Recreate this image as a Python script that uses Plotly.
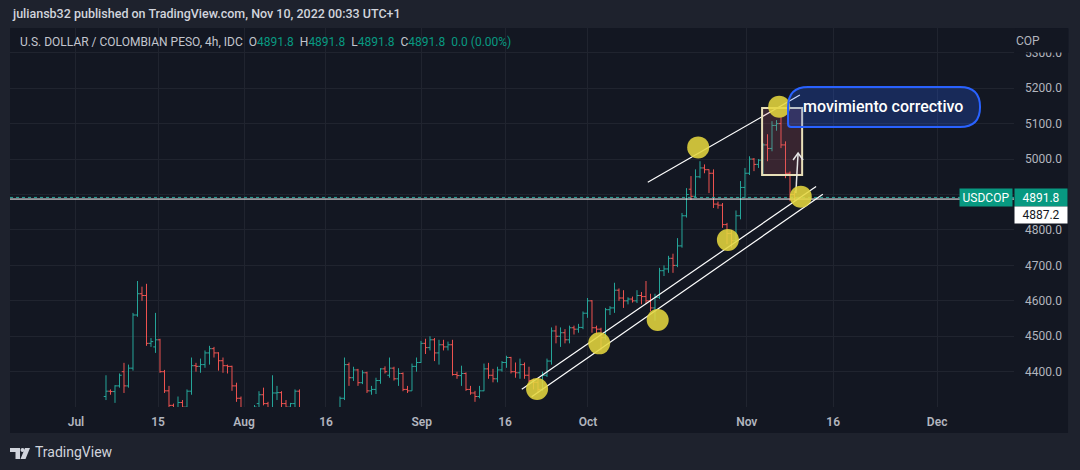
import plotly.graph_objects as go

# ---------------- data (USDCOP 4h) ----------------
open_ = [4330,4345,4344,4360,4400,4360,4410,4560,4620,4615,4480,4470,4490,4400,4346,4305,4285,4313,4300,4345,
         4417,4415,4420,4453,4465,4453,4431,4417,4415,4360,4325,4280,4260,4280,4310,4335,4310,4290,4340,4341,
         4310,4300,4310,4345,4295,4260,4240,4255,4270,4265,4275,4290,4295,4325,4420,4383,4405,4369,4397,4346,
         4350,4375,4408,4390,4410,4380,4395,4350,4346,4415,4426,4480,4468,4490,4453,4476,4470,4476,4392,4389,
         4395,4350,4340,4330,4346,4408,4390,4380,4405,4426,4440,4400,4397,4420,4390,4375,4370,4350,4390,4430,
         4515,4500,4510,4490,4524,4520,4525,4565,4600,4524,4520,4496,4575,4580,4630,4608,4600,4605,4600,4615,
         4612,4600,4580,4610,4685,4690,4720,4700,4755,4840,4915,4895,4950,4975,4970,4960,4873,4870,4815,4790,
         4770,4840,4920,4960,5000,4985,4997,5040,5030,5095,5100,5040,4960,4900,4891.8]
high = [4390,4350,4362,4395,4425,4420,4566,4656,4640,4648,4495,4566,4493,4405,4360,4310,4330,4320,4350,4440,
        4425,4437,4460,4473,4470,4455,4440,4420,4417,4369,4330,4290,4285,4306,4345,4355,4315,4390,4360,4345,
        4320,4312,4350,4350,4298,4280,4270,4285,4290,4285,4295,4298,4330,4440,4426,4414,4408,4404,4400,4360,
        4383,4410,4415,4440,4414,4410,4398,4360,4423,4440,4487,4493,4500,4495,4490,4490,4485,4490,4400,4417,
        4398,4360,4346,4360,4423,4425,4408,4414,4430,4445,4442,4426,4437,4426,4414,4380,4383,4400,4437,4525,
        4530,4525,4520,4530,4530,4535,4570,4608,4602,4530,4524,4580,4585,4651,4635,4630,4610,4612,4630,4625,
        4656,4620,4620,4693,4700,4727,4733,4777,4848,4918,4952,4971,4994,4985,4971,4971,4880,4876,4820,4800,
        4855,4938,4975,5008,5003,5000,5045,5070,5107,5110,5120,5050,4965,4910,4891.8]
low = [4320,4335,4312,4355,4340,4355,4403,4555,4600,4473,4470,4453,4397,4340,4300,4270,4280,4290,4295,4335,
       4400,4397,4411,4420,4440,4403,4397,4395,4346,4315,4270,4250,4245,4270,4300,4305,4280,4285,4320,4300,
       4290,4295,4300,4290,4250,4230,4225,4240,4255,4250,4260,4270,4290,4320,4360,4374,4360,4365,4340,4335,
       4337,4366,4395,4383,4375,4360,4345,4340,4346,4400,4425,4450,4460,4430,4420,4460,4460,4389,4380,4360,
       4346,4335,4315,4325,4345,4380,4370,4370,4400,4411,4395,4383,4380,4380,4370,4350,4340,4345,4385,4420,
       4480,4470,4480,4480,4505,4510,4520,4552,4510,4505,4460,4490,4560,4566,4600,4580,4590,4595,4594,4590,
       4592,4570,4544,4605,4670,4679,4679,4695,4750,4835,4885,4890,4946,4960,4904,4862,4860,4806,4760,4750,
       4765,4830,4890,4955,4966,4975,4952,4994,5022,5080,5031,4946,4881,4881,4891.8]
close = [4345,4344,4360,4390,4360,4410,4560,4620,4615,4480,4485,4490,4400,4346,4305,4285,4313,4300,4345,4417,
         4415,4420,4453,4465,4453,4431,4417,4415,4360,4325,4280,4260,4280,4300,4335,4310,4290,4340,4341,4310,
         4300,4310,4345,4295,4260,4240,4255,4270,4265,4275,4290,4295,4325,4420,4383,4405,4369,4397,4346,4350,
         4375,4408,4400,4410,4380,4395,4350,4346,4415,4426,4480,4468,4490,4453,4476,4470,4476,4392,4389,4395,
         4350,4340,4330,4346,4408,4390,4380,4405,4426,4440,4400,4397,4420,4390,4375,4370,4350,4390,4430,4515,
         4500,4510,4490,4524,4520,4525,4565,4600,4524,4520,4496,4575,4580,4630,4608,4600,4605,4600,4615,4612,
         4600,4580,4610,4685,4690,4720,4700,4755,4840,4900,4895,4950,4975,4970,4960,4873,4870,4815,4790,4770,
         4840,4920,4960,5000,4985,4997,5040,5030,5095,5100,5040,4960,4900,4891.8,4891.8]
bar_index = list(range(len(close)))

x_tick_vals = [-6.67, 11.56, 30.67, 48.89, 70.15, 88.67, 107.1, 142.4, 161.6, 184.7]
x_tick_text = ["Jul", "15", "Aug", "16", "Sep", "16", "Oct", "Nov", "16", "Dec"]
# 4900.0 sits under the last-price label, so only its grid line shows
y_tick_vals = [4400, 4500, 4600, 4700, 4800, 5000, 5100, 5200, 5300]
y_hidden_grid = [4900]

last_price = 4891.8
hline_price = 4887.2

# drawings (bar index, price)
circle_x = [95.8, 109.6, 122.6, 131.6, 138.2, 149.6, 154.4]
circle_y = [4351, 4480, 4546, 5033, 4772, 5148, 4894]
upper_line = [(120.4, 4934.5), (154.2, 5180.9)]
lower_line_1 = [(92.4, 4350.3), (157.8, 4922.6)]
lower_line_2 = [(94.6, 4329.5), (159.3, 4900.6)]
box_x = [145.8, 154.7]
box_y = [4955, 5144]
arrow_from = (153.3, 4904)
arrow_to = (153.8, 5017)
callout_anchor = (172.9, 5147)
callout_text = "movimiento correctivo"

# ---------------- figure ----------------
PANE = "#131722"
OUTER = "#1e222d"
GRID = "#20242f"
AXT = "#b2b5be"
UP = "#26a69a"
DOWN = "#ef5350"
FONT = "Roboto"

fig = go.Figure()
fig.add_trace(go.Ohlc(
    x=bar_index, open=open_, high=high, low=low, close=close,
    increasing=dict(line=dict(color=UP, width=1)),
    decreasing=dict(line=dict(color=DOWN, width=1)),
    tickwidth=0.5, hoverinfo="skip", showlegend=False,
))

shapes = []
# chart pane background (plot + axes area)
shapes.append(dict(type="rect", xref="paper", yref="paper", x0=0, x1=1.0538, y0=-0.0686, y1=1.0,
                   fillcolor=PANE, line=dict(width=0), layer="below"))
for gy in y_hidden_grid:
    shapes.append(dict(type="line", xref="paper", yref="y", x0=0, x1=1, y0=gy, y1=gy,
                       line=dict(color=GRID, width=1), layer="below"))
# horizontal line drawing
shapes.append(dict(type="line", xref="paper", yref="y", x0=0, x1=1, y0=hline_price, y1=hline_price,
                   line=dict(color="#ffffff", width=1)))
# last price dotted line
shapes.append(dict(type="line", xref="paper", yref="y", x0=0, x1=1, y0=last_price, y1=last_price,
                   line=dict(color=UP, width=1, dash="dot")))
# channel lines
for ln in (upper_line, lower_line_1, lower_line_2):
    shapes.append(dict(type="line", xref="x", yref="y", x0=ln[0][0], y0=ln[0][1], x1=ln[1][0], y1=ln[1][1],
                       line=dict(color="#ffffff", width=1.2), layer="above"))
# rectangle
shapes.append(dict(type="rect", xref="x", yref="y", x0=box_x[0], x1=box_x[1], y0=box_y[0], y1=box_y[1],
                   fillcolor="rgba(205,95,105,0.2)", line=dict(color="#e8dfb8", width=2), layer="above"))
# arrow shaft + head
shapes.append(dict(type="line", xref="x", yref="y", x0=arrow_from[0], y0=arrow_from[1],
                   x1=arrow_to[0], y1=arrow_to[1], line=dict(color="#e6e6e6", width=1.5), layer="above"))
shapes.append(dict(type="path", xref="x", yref="y", xsizemode="pixel", ysizemode="pixel",
                   xanchor=arrow_to[0], yanchor=arrow_to[1], path="M -5,-7 L 0,0 L 5,-7",
                   line=dict(color="#e6e6e6", width=1.5), layer="above"))
# yellow circles
for cx, cy in zip(circle_x, circle_y):
    shapes.append(dict(type="circle", xref="x", yref="y", xsizemode="pixel", ysizemode="pixel",
                       xanchor=cx, yanchor=cy, x0=-11, x1=11, y0=-11, y1=11,
                       fillcolor="rgba(228,214,62,0.88)", line=dict(width=0), layer="above"))
# callout balloon
shapes.append(dict(type="path", xref="x", yref="y", xsizemode="pixel", ysizemode="pixel",
                   xanchor=callout_anchor[0], yanchor=callout_anchor[1],
                   path="M -96,-17 Q -96,-20 -93,-20 L 76,-20 Q 96,-20 96,0 Q 96,20 76,20 L -76,20 Q -96,20 -96,0 Z",
                   fillcolor="rgba(41,98,255,0.25)", line=dict(color="#2962ff", width=2), layer="above"))
# TradingView logo (footer)
shapes.append(dict(type="path", xref="paper", yref="paper", xsizemode="pixel", ysizemode="pixel",
                   xanchor=0, yanchor=-0.1082,
                   path="M 0,0 L 10,0 L 10,-11 L 5.5,-11 L 5.5,-4 L 0,-4 Z",
                   fillcolor="#d1d4dc", line=dict(width=0)))
shapes.append(dict(type="circle", xref="paper", yref="paper", xsizemode="pixel", ysizemode="pixel",
                   xanchor=0, yanchor=-0.1082, x0=10.5, x1=14.5, y0=-4, y1=0,
                   fillcolor="#d1d4dc", line=dict(width=0)))
shapes.append(dict(type="path", xref="paper", yref="paper", xsizemode="pixel", ysizemode="pixel",
                   xanchor=0, yanchor=-0.1082,
                   path="M 15,0 L 20,0 L 15.5,-11 L 10.5,-11 Z",
                   fillcolor="#d1d4dc", line=dict(width=0)))

G = "#089981"
hdr2 = ("U.S. DOLLAR / COLOMBIAN PESO, 4h, IDC&nbsp;&nbsp;"
        f"O<span style='color:{G}'>4891.8</span>&nbsp;&nbsp;"
        f"H<span style='color:{G}'>4891.8</span>&nbsp;&nbsp;"
        f"L<span style='color:{G}'>4891.8</span>&nbsp;&nbsp;"
        f"C<span style='color:{G}'>4891.8</span>&nbsp;&nbsp;"
        f"<span style='color:{G}'>0.0 (0.00%)</span>")

annotations = [
    dict(xref="paper", yref="paper", x=0.0, y=1.037, xanchor="left", yanchor="middle", showarrow=False,
         text="juliansb32 published on TradingView.com, Nov 10, 2022 00:33 UTC+1",
         font=dict(family=FONT, size=12.5, color="#d1d4dc", weight=500)),
    dict(xref="paper", yref="paper", x=0.008, y=0.963, xanchor="left", yanchor="middle", showarrow=False,
         text=hdr2, font=dict(family=FONT, size=12, color="#c3c6ce")),
    # "COP" label box; like the original it hides the upper part of the 5300.0 tick label
    dict(xref="paper", yref="paper", x=1.0005, y=1.0, xanchor="left", yanchor="top", showarrow=False,
         text="COP", width=52, height=23, bgcolor=PANE, borderpad=0, align="left", valign="middle",
         font=dict(family=FONT, size=12, color=AXT)),
    dict(xref="paper", yref="y", x=0.999, y=last_price, xanchor="right", yanchor="middle", showarrow=False,
         text="USDCOP", width=52, height=17, bgcolor=G, borderpad=0,
         font=dict(family=FONT, size=12, color="#ffffff")),
    dict(xref="paper", yref="y", x=1.0, y=last_price, xanchor="left", yanchor="middle", showarrow=False,
         text="4891.8", width=52, height=17, bgcolor=G, borderpad=0,
         font=dict(family=FONT, size=12, color="#ffffff")),
    dict(xref="paper", yref="y", x=1.0, y=hline_price, yshift=-16, xanchor="left", yanchor="middle",
         showarrow=False, text="4887.2", width=52, height=16, bgcolor="#ffffff", borderpad=0,
         font=dict(family=FONT, size=12, color="#131722")),
    dict(xref="x", yref="y", x=callout_anchor[0], y=callout_anchor[1], xshift=-1, showarrow=False,
         text=callout_text, font=dict(family=FONT, size=16, color="#ffffff", weight=500)),
    dict(xref="paper", yref="paper", x=0.0229, y=-0.1187, xanchor="left", yanchor="middle", showarrow=False,
         text="TradingView", font=dict(family=FONT, size=14, color="#d1d4dc")),
]

fig.update_layout(
    width=1080, height=470,
    margin=dict(l=10, r=66, t=28, b=63),
    paper_bgcolor=OUTER, plot_bgcolor=PANE,
    showlegend=False,
    shapes=shapes, annotations=annotations,
    xaxis=dict(range=[-21.33, 201.78], tickmode="array", tickvals=x_tick_vals, ticktext=x_tick_text,
               showgrid=True, gridcolor=GRID, gridwidth=1, zeroline=False, showline=False, ticks="",
               tickfont=dict(family=FONT, size=12, color=AXT, weight=600), ticklabelstandoff=6,
               rangeslider=dict(visible=False), fixedrange=True),
    yaxis=dict(range=[4300.4, 5369.9], side="right", tickmode="array", tickvals=y_tick_vals,
               tickformat=".1f", showgrid=True, gridcolor=GRID, gridwidth=1, zeroline=False,
               showline=False, ticks="", tickfont=dict(family=FONT, size=12, color=AXT),
               ticklabelstandoff=10, fixedrange=True),
)

fig.write_html("out.html")
